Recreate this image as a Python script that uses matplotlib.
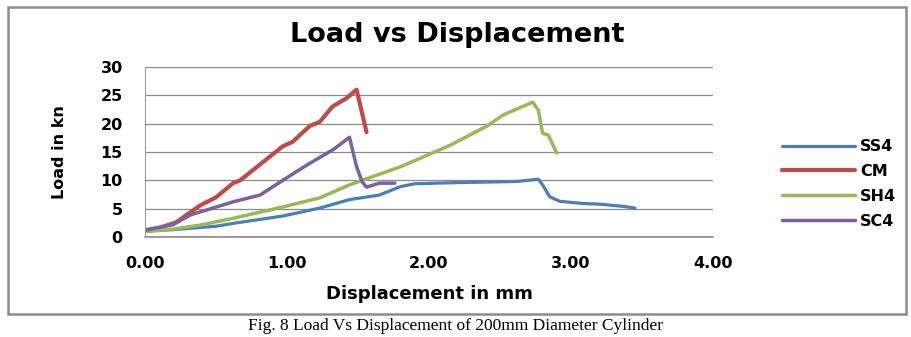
import matplotlib
matplotlib.use("Agg")
import matplotlib.pyplot as plt
from matplotlib.patches import Rectangle

# displacement (mm) / load (kN) for each specimen
ss4_x = [0.00, 0.20, 0.50, 0.62, 0.97, 1.23, 1.44, 1.65, 1.80, 1.90, 2.20, 2.62, 2.77, 2.80, 2.85, 2.92, 3.09, 3.20, 3.37, 3.45]
ss4_y = [1.0, 1.3, 1.9, 2.4, 3.7, 5.1, 6.6, 7.4, 8.9, 9.4, 9.6, 9.8, 10.2, 9.2, 7.1, 6.3, 5.9, 5.8, 5.4, 5.1]

cm_x = [0.00, 0.10, 0.22, 0.39, 0.50, 0.62, 0.67, 0.97, 1.04, 1.16, 1.23, 1.32, 1.42, 1.49, 1.56]
cm_y = [1.2, 1.6, 2.6, 5.6, 7.0, 9.5, 10.0, 16.0, 16.8, 19.6, 20.3, 23.0, 24.5, 26.0, 18.5]

sh4_x = [0.00, 0.20, 0.39, 0.62, 0.97, 1.23, 1.44, 1.80, 2.15, 2.41, 2.52, 2.73, 2.77, 2.80, 2.84, 2.90]
sh4_y = [1.0, 1.4, 2.1, 3.3, 5.3, 6.9, 9.2, 12.4, 16.2, 19.6, 21.5, 23.8, 22.4, 18.3, 18.0, 14.8]

sc4_x = [0.00, 0.20, 0.32, 0.62, 0.81, 0.97, 1.14, 1.33, 1.44, 1.49, 1.53, 1.56, 1.65, 1.76]
sc4_y = [1.2, 2.2, 3.9, 6.2, 7.4, 10.0, 12.7, 15.5, 17.6, 12.4, 9.7, 8.8, 9.5, 9.5]

series = [("SS4", ss4_x, ss4_y, "#4a7ebb", 2.3),
          ("CM", cm_x, cm_y, "#be4b48", 3.0),
          ("SH4", sh4_x, sh4_y, "#98b954", 2.5),
          ("SC4", sc4_x, sc4_y, "#7d60a0", 2.5)]

y_ticks = [0, 5, 10, 15, 20, 25, 30]
x_ticks = [0, 1, 2, 3, 4]

fig = plt.figure(figsize=(9.12, 3.37), dpi=100)
fig.patches.append(Rectangle((8 / 912, 1 - 314 / 337), 898 / 912, 307 / 337,
                             transform=fig.transFigure, fill=False,
                             edgecolor="#8c8c8c", linewidth=1.8))

ax = fig.add_axes([145 / 912, 1 - 237 / 337, 568 / 912, 170 / 337])
for name, xs, ys, col, lw in series:
    ax.plot(xs, ys, color=col, linewidth=lw, label=name, solid_capstyle="round")

ax.set_xlim(0, 4)
ax.set_ylim(0, 30)
ax.set_yticks(y_ticks)
ax.set_xticks(x_ticks)
ax.set_xticklabels(["%.2f" % v for v in x_ticks])
ax.grid(axis="y", color="#8a8a8a", linewidth=0.9)
ax.axhline(0, color="#8a8a8a", linewidth=1.2, clip_on=False, zorder=0.5)
ax.set_axisbelow(True)
for s in ["top", "right", "bottom"]:
    ax.spines[s].set_visible(False)
ax.spines["left"].set_color("#9a9a9a")
ax.tick_params(length=0, labelsize=11.5)
ax.tick_params(axis="y", pad=16)
ax.tick_params(axis="x", pad=14)
for lbl in ax.get_xticklabels() + ax.get_yticklabels():
    lbl.set_fontweight("bold")

ax.set_ylabel("Load in kn", fontsize=11.5, fontweight="bold", labelpad=24)
ax.set_xlabel("Displacement in mm", fontsize=13, fontweight="bold", labelpad=10)

fig.text(457 / 912, 1 - 35 / 337, "Load vs Displacement", ha="center", va="center",
         fontsize=19.5, fontweight="bold")

ax.legend(loc="center left", bbox_to_anchor=(774 / 912, 1 - 184 / 337),
          bbox_transform=fig.transFigure, frameon=False, handlelength=4.6,
          handletextpad=0.3, labelspacing=0.62, borderpad=0,
          prop={"weight": "bold", "size": 11.5})

fig.text(456 / 912, 1 - 326 / 337, "Fig. 8 Load Vs Displacement of 200mm Diameter Cylinder",
         ha="center", va="center", fontsize=12.5, family="Liberation Serif")

fig.savefig("out.png", dpi=100)
